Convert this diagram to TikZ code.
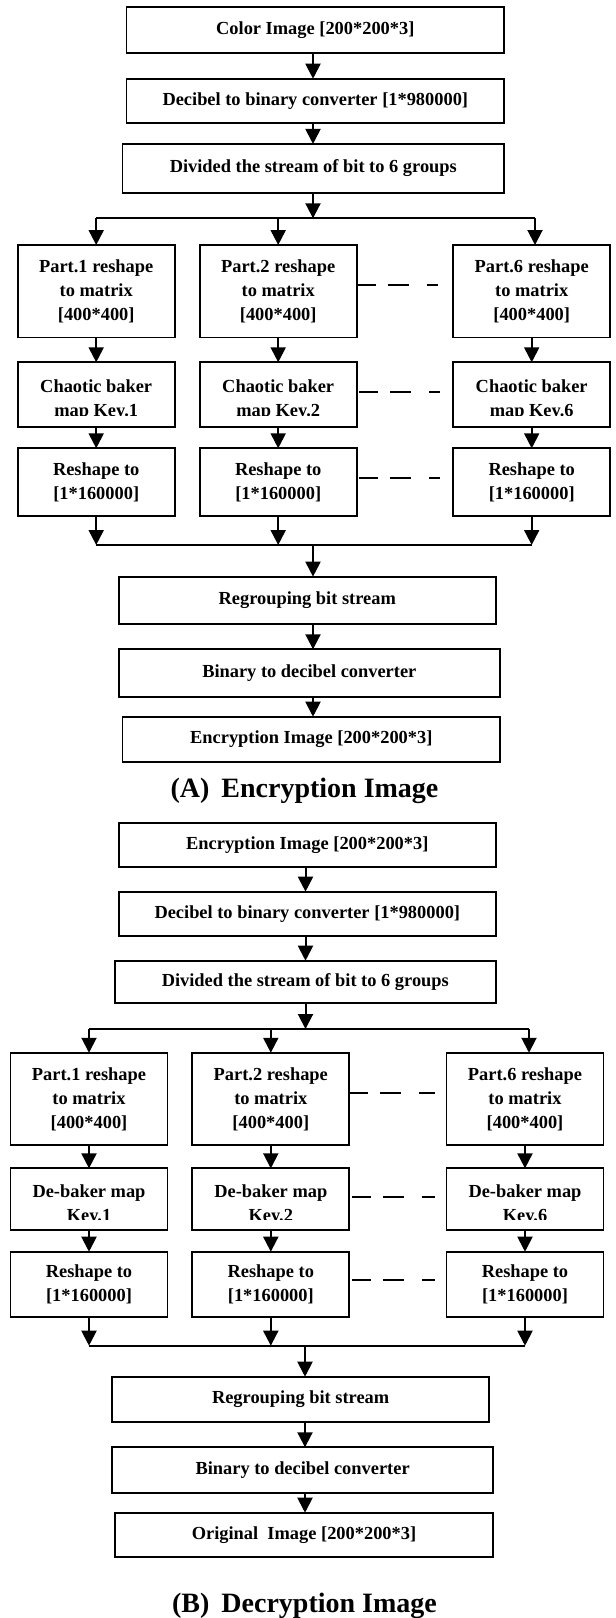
\documentclass[tikz,border=0pt]{standalone}
\usepackage{fontspec}
\setmainfont{Liberation Serif}
\usetikzlibrary{arrows.meta}
\newcommand\flowfont{\bfseries\fontsize{18.4}{24}\selectfont}
\newcommand\figcapfont{\bfseries\fontsize{28}{32}\selectfont}
% a box label whose second line is cut off a little above the frame
\newcommand\cliplabel[3]{%
  \begin{scope}
    \clip (#1.north west) rectangle ([yshift=11pt]#1.south east);
    \node[lbl] (#2) at ([yshift=-5.5pt]#1.center) {#3};
  \end{scope}}
\begin{document}
\begin{tikzpicture}[x=1pt,y=-1pt,
  box/.style={draw, line width=1.8pt, inner sep=0pt, outer sep=0pt, align=center, font=\flowfont},
  colbox/.style={box, minimum width=157pt},
  lbl/.style={inner sep=0pt, outer sep=0pt, align=center, font=\flowfont},
  conn/.style={line width=2pt},
  arr/.style={conn, -{Triangle[length=15pt,width=15pt]}},
  dline/.style={line width=2pt, dash pattern=on 19pt off 12pt on 21pt off 18pt},
  caption/.style={font=\figcapfont, anchor=base, inner sep=0pt}]

\fill[white] (0,0) rectangle (616,1618);
\useasboundingbox (0,0) rectangle (616,1618);

% ---------------- (A) encryption ----------------
\node[box, minimum width=377.5pt, minimum height=45.4pt] (a1) at (315.3,30) {Color Image [200*200*3]};
\node[box, minimum width=377.5pt, minimum height=44.6pt] (a2) at (315.3,101) {Decibel to binary converter [1*980000]};
\node[box, minimum width=381.5pt, minimum height=48.7pt] (a3) at (313.3,168.3) {Divided the stream of bit to 6 groups};

\node[colbox, minimum height=92.5pt] (p1) at (96.2,291.25) {Part.1 reshape\\to matrix\\{[400*400]}};
\node[colbox, minimum height=92.5pt] (p2) at (278.2,291.25) {Part.2 reshape\\to matrix\\{[400*400]}};
\node[colbox, minimum height=92.5pt] (p3) at (531.7,291.25) {Part.6 reshape\\to matrix\\{[400*400]}};

\node[colbox, minimum height=64.4pt] (c1) at (96.2,394.5) {};
\node[colbox, minimum height=64.4pt] (c2) at (278.2,394.5) {};
\node[colbox, minimum height=64.4pt] (c3) at (531.7,394.5) {};
\cliplabel{c1}{c1t}{Chaotic baker\\map Key.1}
\cliplabel{c2}{c2t}{Chaotic baker\\map Key.2}
\cliplabel{c3}{c3t}{Chaotic baker\\map Key.6}

\node[colbox, minimum height=67.4pt] (r1) at (96.2,482) {Reshape to\\{[1*160000]}};
\node[colbox, minimum height=67.4pt] (r2) at (278.2,482) {Reshape to\\{[1*160000]}};
\node[colbox, minimum height=67.4pt] (r3) at (531.7,482) {Reshape to\\{[1*160000]}};

\node[box, minimum width=377.4pt, minimum height=47.3pt] (a4) at (307.3,600.3) {Regrouping bit stream};
\node[box, minimum width=381.4pt, minimum height=47.4pt] (a5) at (309.3,673) {Binary to decibel converter};
\node[box, minimum width=377.5pt, minimum height=45.6pt] (a6) at (311.3,739.5) {Encryption Image [200*200*3]};

\node[caption] (capA) at (304.5,797.7) {(A)\hspace{12pt}Encryption Image};

\coordinate (sA) at (313,0);
\coordinate (splitA) at (313,218.3);
\coordinate (mergeA) at (313,545);
\coordinate (xA3) at (535,0);

\draw[arr] (a1.south -| sA) -- (a2.north -| sA);
\draw[arr] (a2.south -| sA) -- (a3.north -| sA);
\draw[arr] (a3.south -| sA) -- (splitA);
\draw[conn] (splitA -| p1.north) -- (splitA -| xA3);
\draw[arr] (splitA -| p1.north) -- (p1.north);
\draw[arr] (splitA -| p2.north) -- (p2.north);
\draw[arr] (splitA -| xA3) -- (p3.north -| xA3);

\foreach \u/\v in {p1/c1,p2/c2,p3/c3,c1/r1,c2/r2,c3/r3}
  \draw[arr] (\u.south) -- (\v.north);

\draw[arr] (r1.south) -- (r1.south |- mergeA);
\draw[arr] (r2.south) -- (r2.south |- mergeA);
\draw[arr] (r3.south) -- (r3.south |- mergeA);
\draw[conn] (mergeA -| r1.south) -- (mergeA -| r3.south);
\draw[arr] (mergeA) -- (a4.north -| sA);
\draw[arr] (a4.south -| sA) -- (a5.north -| sA);
\draw[arr] (a5.south -| sA) -- (a6.north -| sA);

\draw[dline] ([yshift=6.25pt]p2.east) -- ([yshift=6.25pt,xshift=-15pt]p3.west);
\draw[dline] ([yshift=2.8pt,xshift=2.6pt]c2.east) -- ([yshift=2.8pt,xshift=-13.3pt]c3.west);
\draw[dline] ([yshift=3.7pt,xshift=2.6pt]r2.east) -- ([yshift=3.7pt,xshift=-13.3pt]r3.west);

% ---------------- (B) decryption ----------------
\node[box, minimum width=377.4pt, minimum height=44pt] (b1) at (307.3,845.3) {Encryption Image [200*200*3]};
\node[box, minimum width=377.4pt, minimum height=44.3pt] (b2) at (307.3,913.8) {Decibel to binary converter [1*980000]};
\node[box, minimum width=381.4pt, minimum height=42.6pt] (b3) at (305.3,982) {Divided the stream of bit to 6 groups};

\node[colbox, minimum height=92.3pt] (q1) at (89,1098.9) {Part.1 reshape\\to matrix\\{[400*400]}};
\node[colbox, minimum height=92.3pt] (q2) at (270.8,1098.9) {Part.2 reshape\\to matrix\\{[400*400]}};
\node[colbox, minimum height=92.3pt] (q3) at (525,1098.9) {Part.6 reshape\\to matrix\\{[400*400]}};

\node[colbox, minimum height=61.7pt] (d1) at (89,1199.2) {};
\node[colbox, minimum height=61.7pt] (d2) at (270.8,1199.2) {};
\node[colbox, minimum height=61.7pt] (d3) at (525,1199.2) {};
\cliplabel{d1}{d1t}{De-baker map\\Key.1}
\cliplabel{d2}{d2t}{De-baker map\\Key.2}
\cliplabel{d3}{d3t}{De-baker map\\Key.6}

\node[colbox, minimum height=65.6pt] (s1) at (89,1284.5) {Reshape to\\{[1*160000]}};
\node[colbox, minimum height=65.6pt] (s2) at (270.8,1284.5) {Reshape to\\{[1*160000]}};
\node[colbox, minimum height=65.6pt] (s3) at (525,1284.5) {Reshape to\\{[1*160000]}};

\node[box, minimum width=377.4pt, minimum height=45.6pt] (b4) at (300.6,1399.5) {Regrouping bit stream};
\node[box, minimum width=381.4pt, minimum height=46pt] (b5) at (302.6,1470.3) {Binary to decibel converter};
\node[box, minimum width=378.7pt, minimum height=44.6pt] (b6) at (304,1535) {Original\ \ Image [200*200*3]};

\node[caption] (capB) at (304.5,1612) {(B)\hspace{12pt}Decryption Image};

\coordinate (sB) at (305.5,0);
\coordinate (sB2) at (305,0);
\coordinate (splitB) at (305.5,1029);
\coordinate (mergeB) at (305,1345.7);
\coordinate (xB3) at (529,0);

\draw[arr] (b1.south -| sB) -- (b2.north -| sB);
\draw[arr] (b2.south -| sB) -- (b3.north -| sB);
\draw[arr] (b3.south -| sB) -- (splitB);
\draw[conn] (splitB -| q1.north) -- (splitB -| xB3);
\draw[arr] (splitB -| q1.north) -- (q1.north);
\draw[arr] (splitB -| q2.north) -- (q2.north);
\draw[arr] (splitB -| xB3) -- (q3.north -| xB3);

\foreach \u/\v in {q1/d1,q2/d2,q3/d3,d1/s1,d2/s2,d3/s3}
  \draw[arr] (\u.south) -- (\v.north);

\draw[arr] (s1.south) -- (s1.south |- mergeB);
\draw[arr] (s2.south) -- (s2.south |- mergeB);
\draw[arr] (s3.south) -- (s3.south |- mergeB);
\draw[conn] (mergeB -| s1.south) -- (mergeB -| s3.south);
\draw[arr] (mergeB) -- (b4.north -| sB2);
\draw[arr] (b4.south -| sB2) -- (b5.north -| sB2);
\draw[arr] (b5.south -| sB2) -- (b6.north -| sB2);

\draw[dline] ([yshift=5.6pt]q2.east) -- ([yshift=5.6pt,xshift=-12pt]q3.west);
\draw[dline] ([yshift=2.5pt,xshift=2.5pt]d2.east) -- ([yshift=2.5pt,xshift=-12pt]d3.west);
\draw[dline] ([yshift=4.5pt,xshift=2.5pt]s2.east) -- ([yshift=4.5pt,xshift=-12pt]s3.west);

\end{tikzpicture}
\end{document}
